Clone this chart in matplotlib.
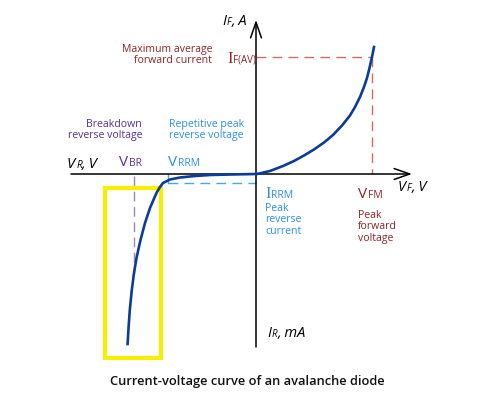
import matplotlib.pyplot as plt
from matplotlib.patches import Rectangle

plt.rcParams['font.family'] = ['Open Sans', 'DejaVu Sans']

# schematic units, origin where the two axes cross
# forward branch: V_F vs I_F
v_fwd = [1, 14, 27, 38, 48, 58, 68, 77, 86, 94, 99, 104, 108, 111, 113.5, 116, 118]
i_fwd = [0, 3, 8, 13, 18.5, 24.5, 31.5, 39, 48.5, 58.5, 67, 77, 87, 96, 106, 117, 127]
# reverse branch: V_R vs I_R (avalanche breakdown)
v_rev = [0, -26, -46, -61, -76, -86, -93, -96, -99, -101.3, -106, -111, -115.5,
         -119.3, -122, -124.2, -126.2, -127.4, -128.4]
i_rev = [0, -0.5, -1, -2, -3.5, -5.5, -9, -13, -18, -23, -34, -49, -66,
         -83, -99, -116, -136, -153, -170]

# characteristic points
V_FM = 116
I_FAV = 117
V_BR = -122
V_BR_END = -99
V_RRM = -88
I_RRM = -9
# highlighted breakdown zone (voltage range, current range)
zone_v = [-151, -95]
zone_i = [-184, -14]

# axis extents
x_axis = [-185, 156]
y_axis = [-173, 154]

DARKRED = '#8e2424'
RED = '#d46a6a'
PURPLE = '#5a2d8e'
PURPLE_L = '#9f82c8'
BLUE = '#2b8fe6'
BLUE_L = '#45a8ec'
CURVE = '#0a3c9c'

fig = plt.figure(figsize=(5, 4), dpi=100)
ax = fig.add_axes([0, 0, 1, 1])
ax.set_xlim(-256, 244)
ax.set_ylim(-226, 174)
ax.axis('off')


def P(x, y):
    # pixel position of the picture -> data units
    return x - 256, 174 - y


# axes with arrows
arrow = dict(arrowstyle='->,head_length=0.8,head_width=0.28', lw=1.1,
             color='black', mutation_scale=14, shrinkA=0, shrinkB=0)
ax.annotate('', xy=(x_axis[1], 0), xytext=(x_axis[0], 0), arrowprops=arrow)
ax.annotate('', xy=(0, y_axis[1]), xytext=(0, y_axis[0]), arrowprops=arrow)

# guide lines
ax.plot([0, V_FM], [I_FAV, I_FAV], color=RED, lw=1.0, dashes=(7, 4.5))
ax.plot([V_FM, V_FM], [I_FAV, 0], color=RED, lw=1.0, dashes=(7, 4.5))
ax.plot([V_BR, V_BR], [-2, V_BR_END], color=PURPLE_L, lw=1.0, dashes=(7, 4))
ax.plot([V_RRM, V_RRM], [0, I_RRM], color=BLUE_L, lw=1.0)
ax.plot([V_RRM, 0], [I_RRM, I_RRM], color=BLUE_L, lw=1.0, dashes=(7, 4.5))

# highlight box
ax.add_patch(Rectangle((zone_v[0], zone_i[0]), zone_v[1] - zone_v[0],
                       zone_i[1] - zone_i[0], fill=False,
                       edgecolor='#f7ee00', lw=3.0, zorder=2))

# I-V curve
ax.plot(v_fwd, i_fwd, color=CURVE, lw=1.9, solid_joinstyle='round', zorder=3)
ax.plot(v_rev, i_rev, color=CURVE, lw=1.9, solid_joinstyle='round', zorder=3)


def label(x, y, main, sub, rest='', color='black', size=11, subsize=7.5,
          style='normal', mainfam=None):
    kw = dict(color=color, style=style, va='baseline')
    xd, yd = P(x, y)
    t = ax.text(xd, yd, main, ha='left', fontsize=size,
                family=mainfam if mainfam else None, **kw)
    s = ax.annotate(sub, xy=(1, yd), xycoords=(t, 'data'), xytext=(0.6, 0),
                    textcoords='offset points', ha='left',
                    fontsize=subsize, **kw)
    if rest:
        ax.annotate(rest, xy=(1, yd), xycoords=(s, 'data'), ha='left',
                    fontsize=size, **kw)


# axis names
label(222, 25, 'I', 'F', ', A', size=10.5, subsize=7, style='italic')
label(267, 337, 'I', 'R', ', mA', size=10.5, subsize=7, style='italic')
label(67, 168, 'V', 'R', ', V', size=10.8, subsize=7.2, style='italic')
label(398, 191, 'V', 'F', ', V', size=10.5, subsize=7, style='italic')

# characteristic symbols
label(227, 63, 'I', 'F(AV)', color=DARKRED, size=12, subsize=7,
      mainfam=['Liberation Serif'])
label(119, 166, 'V', 'BR', color=PURPLE, size=11, subsize=7.5)
label(168, 166, 'V', 'RRM', color=BLUE, size=11, subsize=7.5)
label(358, 198, 'V', 'FM', color=DARKRED, size=11, subsize=7.5)
label(265, 198, 'I', 'RRM', color=BLUE, size=12, subsize=7.5,
      mainfam=['Liberation Serif'])

# descriptions
desc = dict(fontsize=7.6, linespacing=1.05, va='center')
ax.text(*P(212, 55), 'Maximum average\nforward current', color=DARKRED,
        ha='right', multialignment='right', **desc)
ax.text(*P(142, 130), 'Breakdown\nreverse voltage', color=PURPLE,
        ha='right', multialignment='right', **desc)
ax.text(*P(169, 130), 'Repetitive peak\nreverse voltage', color=BLUE,
        ha='left', **desc)
ax.text(*P(265, 220), 'Peak\nreverse\ncurrent', color=BLUE,
        ha='left', **desc)
ax.text(*P(358, 227), 'Peak\nforward\nvoltage', color=DARKRED,
        ha='left', **desc)

ax.text(*P(247, 382), 'Current-voltage curve of an avalanche diode',
        ha='center', va='center', fontsize=9.3, fontweight='semibold',
        color='#111111')

fig.savefig('out.png', dpi=100)
